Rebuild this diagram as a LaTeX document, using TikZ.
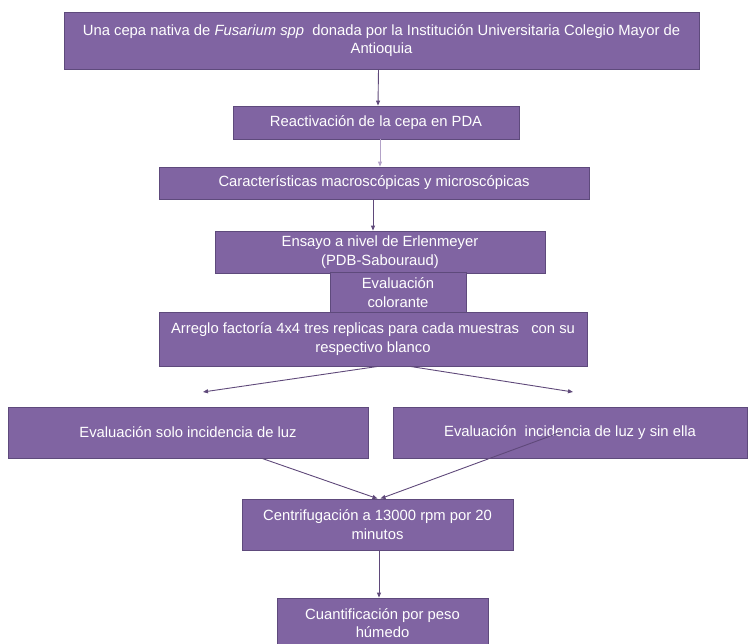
\documentclass[tikz,border=0pt]{standalone}
\usepackage{fontspec}
\setmainfont{Liberation Sans}
\usetikzlibrary{arrows.meta}
\definecolor{lila}{HTML}{8064A2}
\definecolor{lilaborde}{HTML}{5E4A7C}
\definecolor{lilaoscuro}{HTML}{5F497A}
\definecolor{lilaclaro}{HTML}{B3A2C7}
\tikzset{caja/.style={rectangle,draw=lilaborde,fill=lila,text=white,align=center,inner sep=0pt,line width=0.8pt,font=\fontsize{14.8}{18.5}\selectfont},
    flecha/.style={draw=lilaoscuro,line width=0.9pt,-{Triangle[length=5pt,width=4pt]}}}

\begin{document}
\begin{tikzpicture}[x=1pt,y=-1pt]
    \useasboundingbox (0,0) rectangle (748,644);
    \node[caja,minimum width=635pt,minimum height=57pt] (cepa) at (381.5,40.5)
        {Una cepa nativa de \textit{Fusarium spp}\ \ donada por la Institución Universitaria Colegio Mayor de\\Antioquia};
    \node[caja,minimum width=286pt,minimum height=33pt] (pda) at (376,122.5) {Reactivación de la cepa en PDA};
    \node[caja,minimum width=430pt,minimum height=32pt] (carac) at (374,183) {Características macroscópicas y microscópicas};
    \node[caja,minimum width=330pt,minimum height=42pt] (ensayo) at (380,252) {Ensayo a nivel de Erlenmeyer\\(PDB-Sabouraud)};
    \node[caja,minimum width=136pt,minimum height=41pt] (color) at (398,292.5) {Evaluación\\colorante};
    \node[caja,minimum width=428pt,minimum height=54pt] (arreglo) at (373,339)
        {Arreglo factoría 4x4 tres replicas para cada muestras\ \ \ con su\\respectivo blanco};
    \node[caja,minimum width=360pt,minimum height=51pt] (luz) at (188,432.5) {Evaluación solo incidencia de luz};
    \node[caja,minimum width=354pt,minimum height=51pt] (sinluz) at (570,432.5) {Evaluación\ \ incidencia de luz y sin ella};
    \node[caja,minimum width=271pt,minimum height=51pt] (centri) at (377.5,524.5) {Centrifugación a 13000 rpm por 20\\minutos};
    \node[caja,minimum width=211pt,minimum height=50pt] (peso) at (382.5,623) {Cuantificación por peso\\húmedo};
    \coordinate (izq) at (203,392);
    \coordinate (der) at (573,392);

    \draw[flecha] ([xshift=-3pt]cepa.south) -- ([xshift=2pt]pda.north);
    \draw[flecha,draw=lilaclaro] ([xshift=4pt]pda.south) -- ([xshift=6pt]carac.north);
    \draw[flecha] ([xshift=-1pt]carac.south) -- ([xshift=-7pt]ensayo.north);
    \draw[flecha] ([xshift=5pt]arreglo.south) -- (izq);
    \draw[flecha] ([xshift=37pt]arreglo.south) -- (der);
    \draw[flecha] ([xshift=74pt]luz.south) -- (centri.north);
    \draw[flecha] ([xshift=-10pt]sinluz.center) -- ([xshift=3pt]centri.north);
    \draw[flecha] ([xshift=1.5pt]centri.south) -- ([xshift=-3.5pt]peso.north);
\end{tikzpicture}
\end{document}
